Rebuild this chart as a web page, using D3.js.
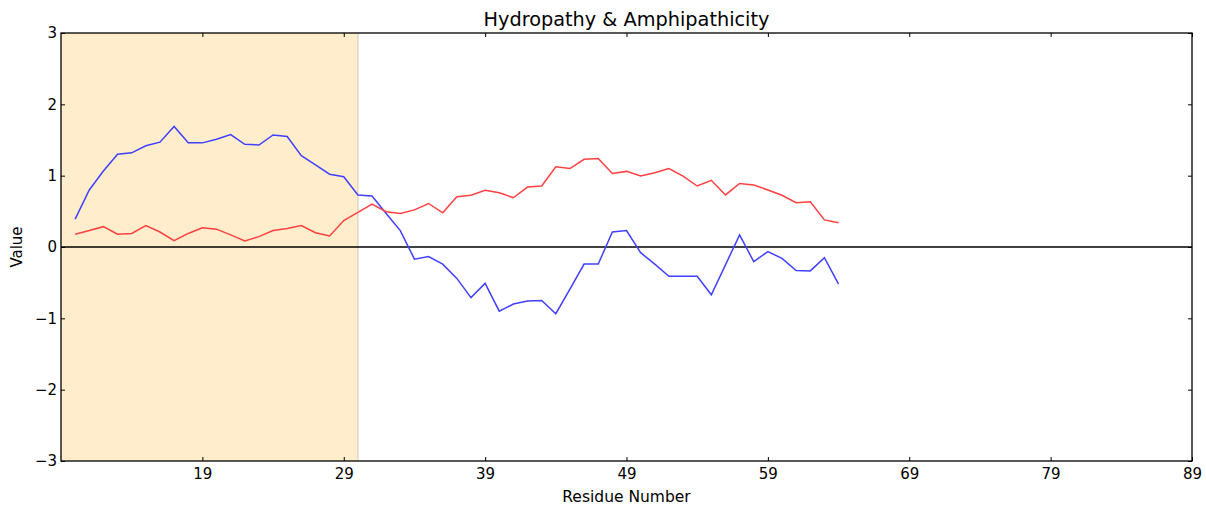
<!DOCTYPE html>
<html>
<head>
<meta charset="utf-8">
<script src="https://cdn.jsdelivr.net/npm/d3@7"></script>
<style>
  body { margin: 0; background: #fff; }
  text { font-family: "DejaVu Sans", sans-serif; fill: #000; }
</style>
</head>
<body>
<svg id="chart" width="1206" height="508"></svg>
<script>
// residues 10..64
const residues = d3.range(10, 65);

const hydropathy = [
  0.39, 0.80, 1.065, 1.30, 1.32, 1.42, 1.47, 1.69, 1.46, 1.46,
  1.51, 1.575, 1.44, 1.43, 1.57, 1.55, 1.28, 1.15, 1.02, 0.985,
  0.73, 0.715, 0.47, 0.23, -0.17, -0.135, -0.24, -0.44, -0.71, -0.51,
  -0.90, -0.80, -0.757, -0.75, -0.935, -0.59, -0.24, -0.24, 0.21, 0.23,
  -0.08, -0.24, -0.41, -0.41, -0.41, -0.67, -0.25, 0.17, -0.205, -0.065,
  -0.16, -0.33, -0.335, -0.15, -0.52
];

const amphipathicity = [
  0.18, 0.23, 0.285, 0.18, 0.19, 0.30, 0.21, 0.09, 0.19, 0.27,
  0.25, 0.17, 0.085, 0.145, 0.23, 0.26, 0.30, 0.20, 0.155, 0.37,
  0.485, 0.60, 0.495, 0.47, 0.52, 0.61, 0.48, 0.705, 0.725, 0.795,
  0.76, 0.69, 0.84, 0.855, 1.125, 1.10, 1.23, 1.24, 1.03, 1.06,
  0.995, 1.04, 1.10, 0.995, 0.855, 0.935, 0.73, 0.89, 0.87, 0.80,
  0.725, 0.62, 0.635, 0.38, 0.34
];

const xTicks = [19, 29, 39, 49, 59, 69, 79, 89];
const yTicks = [-3, -2, -1, 0, 1, 2, 3];
const region = [9, 30];

const svg = d3.select("#chart");
const margin = { left: 61, top: 33, right: 14, bottom: 47 };
const W = 1206, H = 508;

const x = d3.scaleLinear().domain([9, 89]).range([margin.left, W - margin.right]);
const y = d3.scaleLinear().domain([-3, 3]).range([H - margin.bottom, margin.top]);

// shaded region
svg.append("rect")
  .attr("x", x(region[0]))
  .attr("y", y(3))
  .attr("width", x(region[1]) - x(region[0]))
  .attr("height", y(-3) - y(3))
  .attr("fill", "#ffedcc");
svg.append("line")
  .attr("x1", x(region[1])).attr("x2", x(region[1]))
  .attr("y1", y(3)).attr("y2", y(-3))
  .attr("stroke", "#dcd0bf").attr("stroke-width", 1.3);

// zero line
svg.append("line")
  .attr("x1", x(9)).attr("x2", x(89))
  .attr("y1", y(0)).attr("y2", y(0))
  .attr("stroke", "#000").attr("stroke-width", 1.3);

const line = d3.line().x((d, i) => x(residues[i])).y(d => y(d));

svg.append("path")
  .datum(hydropathy)
  .attr("d", line)
  .attr("fill", "none")
  .attr("stroke", "#4040ff")
  .attr("stroke-width", 1.5);

svg.append("path")
  .datum(amphipathicity)
  .attr("d", line)
  .attr("fill", "none")
  .attr("stroke", "#ff4040")
  .attr("stroke-width", 1.5);

// axes with inward ticks (bottom/left labelled, top/right mirrored)
const fmt = d => d < 0 ? "\u2212" + Math.abs(d) : String(d);

const gx = svg.append("g")
  .attr("transform", `translate(0,${y(-3)})`)
  .call(d3.axisBottom(x).tickValues(xTicks).tickSizeInner(-4).tickSizeOuter(0).tickPadding(7));
const gxTop = svg.append("g")
  .attr("transform", `translate(0,${y(3)})`)
  .call(d3.axisTop(x).tickValues(xTicks).tickSizeInner(-4).tickSizeOuter(0).tickFormat(""));
const gy = svg.append("g")
  .attr("transform", `translate(${x(9)},0)`)
  .call(d3.axisLeft(y).tickValues(yTicks).tickFormat(fmt).tickSizeInner(-4).tickSizeOuter(0).tickPadding(4));
const gyRight = svg.append("g")
  .attr("transform", `translate(${x(89)},0)`)
  .call(d3.axisRight(y).tickValues(yTicks).tickSizeInner(-4).tickSizeOuter(0).tickFormat(""));

[gx, gxTop, gy, gyRight].forEach(g => {
  g.select(".domain").remove();
  g.selectAll(".tick line").attr("stroke", "#000");
  g.selectAll(".tick text")
    .style("font-family", "DejaVu Sans, sans-serif")
    .style("font-size", "15px")
    .attr("fill", "#000");
});

// frame
svg.append("rect")
  .attr("x", x(9)).attr("y", y(3))
  .attr("width", x(89) - x(9)).attr("height", y(-3) - y(3))
  .attr("fill", "none").attr("stroke", "#000").attr("stroke-width", 1.3);

// titles
svg.append("text")
  .attr("x", (x(9) + x(89)) / 2).attr("y", 26)
  .attr("text-anchor", "middle")
  .style("font-size", "19.3px")
  .text("Hydropathy & Amphipathicity");

svg.append("text")
  .attr("x", (x(9) + x(89)) / 2).attr("y", 502)
  .attr("text-anchor", "middle")
  .style("font-size", "15.5px")
  .text("Residue Number");

svg.append("text")
  .attr("transform", `translate(22,${y(0)}) rotate(-90)`)
  .attr("text-anchor", "middle")
  .style("font-size", "15px")
  .text("Value");
</script>
</body>
</html>
